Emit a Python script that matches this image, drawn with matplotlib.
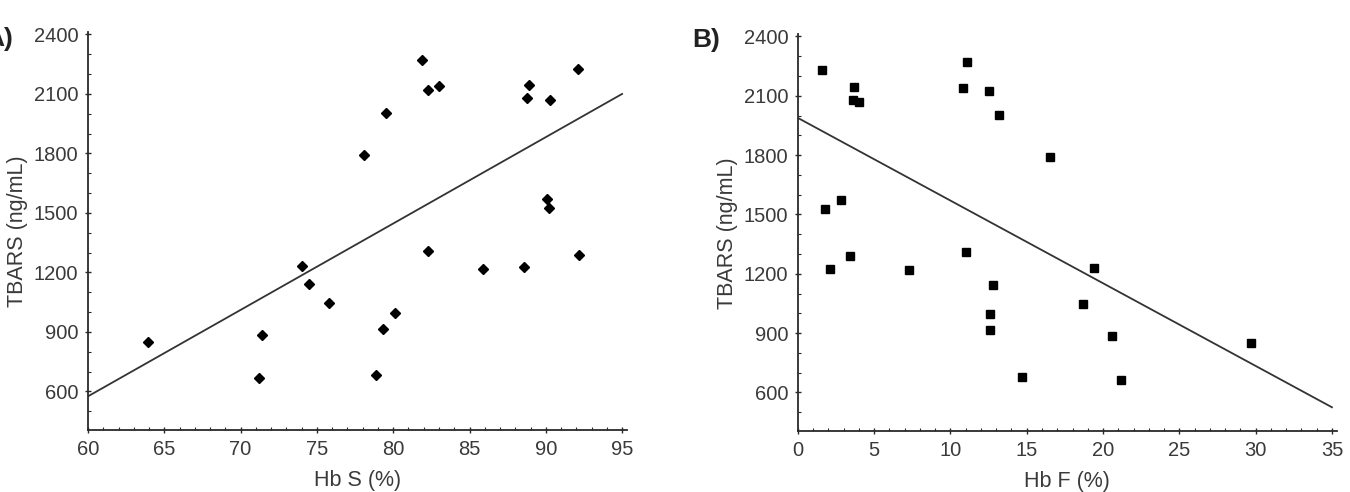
import matplotlib
matplotlib.use("Agg")
import matplotlib.pyplot as plt
from matplotlib.ticker import MultipleLocator

# -----------------------------
# Data
# -----------------------------
tbars = [850, 885, 665, 1230, 1142, 1045, 680, 915, 995, 1308, 1218, 1225,
         1288, 2270, 2122, 2140, 2004, 1792, 2145, 2080, 2068, 2228, 1572, 1527]
hb_s = [63.9, 71.4, 71.2, 74.0, 74.5, 75.8, 78.9, 79.3, 80.1, 82.3, 85.9, 88.6,
        92.2, 81.9, 82.3, 83.0, 79.5, 78.1, 88.9, 88.8, 90.3, 92.1, 90.1, 90.2]
hb_f = [29.7, 20.6, 21.2, 19.4, 12.8, 18.7, 14.7, 12.6, 12.6, 11.0, 7.3, 2.1,
        3.4, 11.1, 12.5, 10.8, 13.2, 16.5, 3.7, 3.6, 4.0, 1.6, 2.8, 1.8]

# regression lines, end points
fit_s_x = [60, 95]
fit_s_y = [575, 2100]
fit_f_x = [0, 35]
fit_f_y = [1988, 525]

yticks = [600, 900, 1200, 1500, 1800, 2100, 2400]
y_label = "TBARS (ng/mL)"

plt.rcParams["font.family"] = ["Liberation Sans", "DejaVu Sans"]
text_col = "#3a3a3a"


def style_axes(ax, xlim, xmajor):
    ax.set_xlim(*xlim)
    ax.set_ylim(405, 2410)
    ax.set_yticks(yticks)
    ax.xaxis.set_major_locator(MultipleLocator(xmajor))
    ax.xaxis.set_minor_locator(MultipleLocator(1))
    ax.yaxis.set_minor_locator(MultipleLocator(100))
    ax.spines["top"].set_visible(False)
    ax.spines["right"].set_visible(False)
    for s in ("left", "bottom"):
        ax.spines[s].set_color("#2a2a2a")
        ax.spines[s].set_linewidth(1.3)
    ax.tick_params(which="major", direction="inout", length=4, width=1,
                   labelsize=14.5, labelcolor=text_col, color="#2a2a2a", pad=5)
    ax.tick_params(which="minor", direction="in", length=2.5, width=0.8,
                   color="#2a2a2a")
    ax.set_ylabel(y_label, fontsize=15.5, color=text_col, labelpad=4)


fig = plt.figure(figsize=(13.5, 4.92), dpi=100)
ax_a = fig.add_axes([0.0652, 0.126, 0.399, 0.808])
ax_b = fig.add_axes([0.591, 0.124, 0.399, 0.806])

# panel A
ax_a.plot(fit_s_x, fit_s_y, color="#333333", lw=1.3, zorder=2)
ax_a.plot(hb_s, tbars, "D", color="black", markersize=5, zorder=3)
style_axes(ax_a, (60, 95.3), 5)
ax_a.set_xlabel("Hb S (%)", fontsize=15.5, color=text_col, labelpad=8)

# panel B
ax_b.plot(fit_f_x, fit_f_y, color="#333333", lw=1.3, zorder=2)
ax_b.plot(hb_f, tbars, "s", color="black", markersize=6, zorder=3)
style_axes(ax_b, (0, 35.3), 5)
ax_b.set_xlabel("Hb F (%)", fontsize=15.5, color=text_col, labelpad=8)

# panel letters ("A)" is partly cut at the left edge, as in the source)
fig.text(-0.011, 0.92, "A)", fontsize=19, fontweight="bold", color="#222222",
         va="center")
fig.text(0.513, 0.918, "B)", fontsize=19, fontweight="bold", color="#222222",
         va="center")

fig.savefig("out.png", dpi=100)
